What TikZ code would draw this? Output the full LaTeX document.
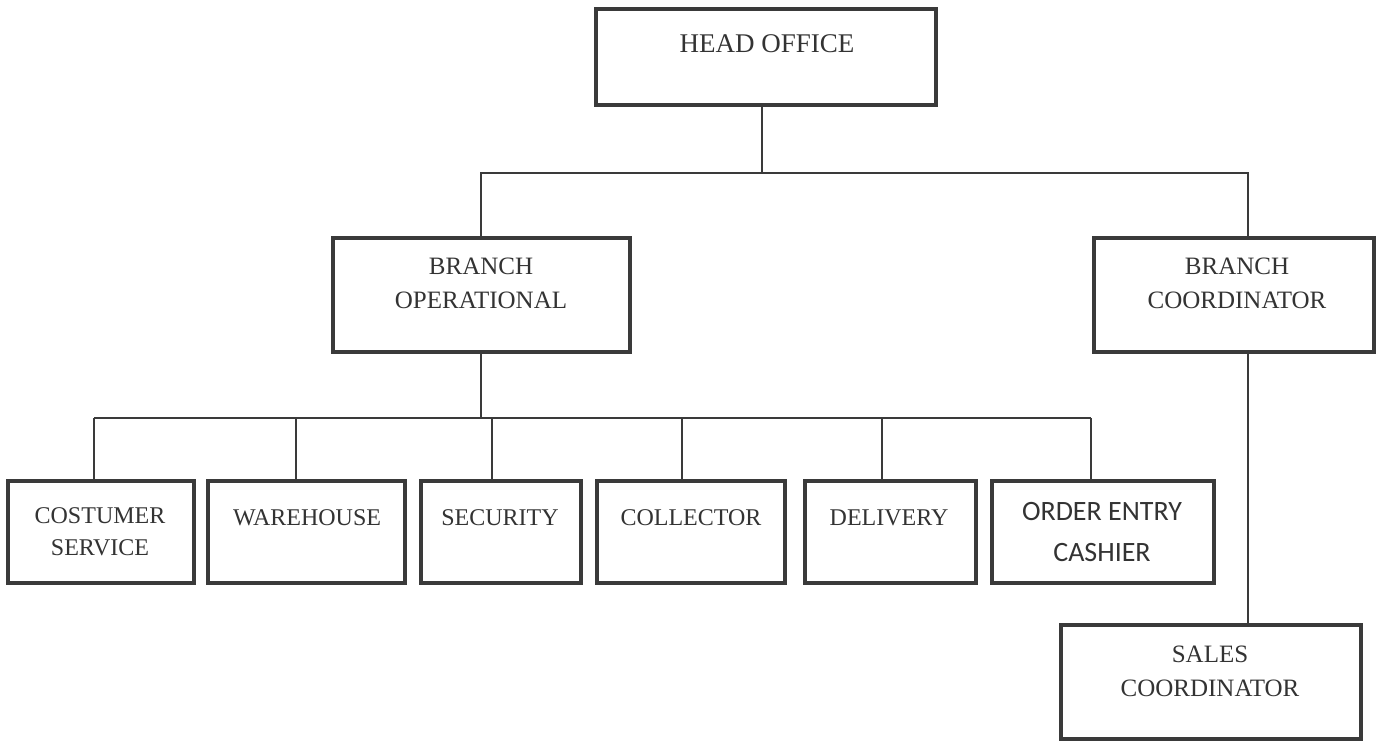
\documentclass[tikz,border=0pt]{standalone}
\usepackage{fontspec}
\setmainfont{Liberation Serif}
\newfontfamily\calib{Carlito}
\definecolor{ink}{HTML}{3A3A3A}
\definecolor{txt}{HTML}{333333}
\tikzset{
  box/.style={draw=ink, line width=4pt, inner sep=0pt, fill=white},
  conn/.style={draw=ink, line width=1.4pt},
  lbl/.style={text=txt, anchor=base, align=center, inner sep=0pt},
  big/.style={font=\fontsize{27}{34}\selectfont},
  mid/.style={font=\fontsize{25}{34}\selectfont},
  small/.style={font=\fontsize{24}{32}\selectfont},
  sans/.style={font=\calib\fontsize{28}{41}\selectfont}
}
\begin{document}
\begin{tikzpicture}[x=1pt,y=-1pt]
\useasboundingbox (0,0) rectangle (1381,742);
% boxes
\node[box, minimum width=340, minimum height=96] (ho) at (766,57) {};
\node[box, minimum width=297, minimum height=114] (bo) at (481.5,295) {};
\node[box, minimum width=280, minimum height=114] (bc) at (1234,295) {};
\node[box, minimum width=186, minimum height=102] (cs) at (101,532) {};
\node[box, minimum width=197, minimum height=102] (wh) at (306.5,532) {};
\node[box, minimum width=160, minimum height=102] (se) at (501,532) {};
\node[box, minimum width=188, minimum height=102] (co) at (691,532) {};
\node[box, minimum width=171, minimum height=102] (de) at (890.5,532) {};
\node[box, minimum width=222, minimum height=102] (oe) at (1103,532) {};
\node[box, minimum width=300, minimum height=114] (sc) at (1211,682) {};
% labels (base anchor = baseline of last line)
\node[lbl, big] (tho) at (767,52) {HEAD OFFICE};
\node[lbl, mid] (tbo) at (481,308) {BRANCH\\OPERATIONAL};
\node[lbl, mid] (tbc) at (1237,308) {BRANCH\\COORDINATOR};
\node[lbl, small] (tcs) at (100,555) {COSTUMER\\SERVICE};
\node[lbl, small] (twh) at (307,525) {WAREHOUSE};
\node[lbl, small] (tse) at (500,525) {SECURITY};
\node[lbl, small] (tco) at (691,525) {COLLECTOR};
\node[lbl, small] (tde) at (889,525) {DELIVERY};
\node[lbl, sans] (toe) at (1102,561) {ORDER ENTRY\\CASHIER};
\node[lbl, mid] (tsc) at (1210,696) {SALES\\COORDINATOR};
% connectors
\coordinate (hj) at (762,173);
\coordinate (lj) at (481,173);
\coordinate (rj) at (1248,173);
\coordinate (bj) at (481,418);
\coordinate (b1) at (94,418);
\coordinate (b2) at (296,418);
\coordinate (b3) at (492,418);
\coordinate (b4) at (682,418);
\coordinate (b5) at (882,418);
\coordinate (b6) at (1091,418);
\draw[conn] (hj |- ho.south) -- (hj);
\draw[conn] (lj |- bo.north) -- (lj) -- (rj) -- (rj |- bc.north);
\draw[conn] (bj |- bo.south) -- (bj);
\draw[conn] (b1) -- (b6);
\draw[conn] (b1) -- (b1 |- cs.north);
\draw[conn] (b2) -- (b2 |- wh.north);
\draw[conn] (b3) -- (b3 |- se.north);
\draw[conn] (b4) -- (b4 |- co.north);
\draw[conn] (b5) -- (b5 |- de.north);
\draw[conn] (b6) -- (b6 |- oe.north);
\draw[conn] (rj |- bc.south) -- (rj |- sc.north);
\end{tikzpicture}
\end{document}
